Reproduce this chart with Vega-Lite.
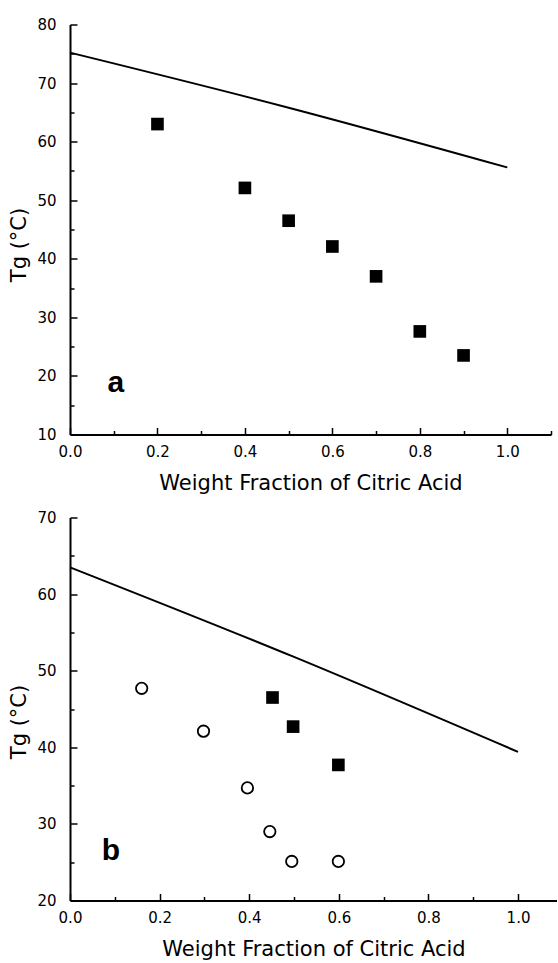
{
  "$schema": "https://vega.github.io/schema/vega-lite/v6.json",
  "background": "white",
  "padding": {"left": 8, "top": 17.5, "right": 0, "bottom": 0},
  "bounds": "flush",
  "spacing": 83,
  "config": {
    "view": {"stroke": null},
    "font": "DejaVu Sans",
    "axis": {
      "grid": false,
      "domainColor": "black",
      "domainWidth": 2,
      "tickColor": "black",
      "tickWidth": 1.5,
      "labelColor": "black",
      "titleColor": "black",
      "labelFont": "DejaVu Sans",
      "labelFontSize": 15,
      "titleFont": "DejaVu Sans",
      "titleFontSize": 21,
      "titleFontWeight": "normal",
      "labelFlush": false,
      "labelOverlap": false
    }
  },
  "datasets": {
    "lineA": [
      {"x": 0.0, "y": 75.2}, {"x": 0.5, "y": 65.8}, {"x": 1.0, "y": 55.6}
    ],
    "ptsA": [
      {"x": 0.2, "y": 63.0}, {"x": 0.4, "y": 52.1}, {"x": 0.5, "y": 46.5},
      {"x": 0.6, "y": 42.1}, {"x": 0.7, "y": 37.0}, {"x": 0.8, "y": 27.6},
      {"x": 0.9, "y": 23.5}
    ],
    "labA": [{"x": 0.105, "y": 17.2, "label": "a"}],
    "lineB": [
      {"x": 0.0, "y": 63.5}, {"x": 0.5, "y": 51.8}, {"x": 1.0, "y": 39.4}
    ],
    "sqB": [
      {"x": 0.452, "y": 46.5}, {"x": 0.498, "y": 42.7}, {"x": 0.599, "y": 37.7}
    ],
    "circB": [
      {"x": 0.16, "y": 47.7}, {"x": 0.298, "y": 42.1}, {"x": 0.396, "y": 34.7},
      {"x": 0.446, "y": 29.0}, {"x": 0.495, "y": 25.1}, {"x": 0.599, "y": 25.1}
    ],
    "labB": [{"x": 0.0915, "y": 25.3, "label": "b"}]
  },
  "vconcat": [
    {
      "width": 481,
      "height": 410,
      "encoding": {
        "x": {
          "field": "x", "type": "quantitative",
          "scale": {"domain": [0, 1.1], "nice": false, "zero": false},
          "axis": {
            "title": "Weight Fraction of Citric Acid",
            "values": [0, 0.1, 0.2, 0.3, 0.4, 0.5, 0.6, 0.7, 0.8, 0.9, 1.0, 1.1],
            "labelExpr": "(round(datum.value*10) % 2 == 0 && datum.value < 1.05) ? format(datum.value, '.1f') : ''",
            "tickSize": {"condition": {"test": "round(datum.value*10) % 2 == 0", "value": -7}, "value": -4},
            "labelPadding": 17,
            "titlePadding": 10
          }
        },
        "y": {
          "field": "y", "type": "quantitative",
          "scale": {"domain": [10, 80], "nice": false, "zero": false},
          "axis": {
            "title": "Tg (°C)",
            "values": [10, 15, 20, 25, 30, 35, 40, 45, 50, 55, 60, 65, 70, 75, 80],
            "labelExpr": "datum.value % 10 == 0 ? datum.value : ''",
            "tickSize": {"condition": {"test": "datum.value % 10 == 0", "value": -7}, "value": -4},
            "labelPadding": 21,
            "titlePadding": 7,
            "titleY": 220
          }
        }
      },
      "layer": [
        {"data": {"name": "lineA"}, "mark": {"type": "line", "color": "black", "strokeWidth": 2, "interpolate": "monotone"}},
        {"data": {"name": "ptsA"}, "mark": {"type": "point", "shape": "square", "filled": true, "color": "black", "size": 160, "opacity": 1}},
        {"data": {"name": "labA"}, "mark": {"type": "text", "font": "Liberation Sans", "fontSize": 30, "fontWeight": "bold", "align": "center", "baseline": "alphabetic", "color": "black"},
         "encoding": {"text": {"field": "label"}}}
      ]
    },
    {
      "width": 487,
      "height": 383,
      "encoding": {
        "x": {
          "field": "x", "type": "quantitative",
          "scale": {"domain": [0, 1.087], "nice": false, "zero": false},
          "axis": {
            "title": "Weight Fraction of Citric Acid",
            "values": [0, 0.1, 0.2, 0.3, 0.4, 0.5, 0.6, 0.7, 0.8, 0.9, 1.0],
            "labelExpr": "(round(datum.value*10) % 2 == 0) ? format(datum.value, '.1f') : ''",
            "tickSize": {"condition": {"test": "round(datum.value*10) % 2 == 0", "value": -7}, "value": -4},
            "labelPadding": 17,
            "titlePadding": 10
          }
        },
        "y": {
          "field": "y", "type": "quantitative",
          "scale": {"domain": [20, 70], "nice": false, "zero": false},
          "axis": {
            "title": "Tg (°C)",
            "values": [20, 25, 30, 35, 40, 45, 50, 55, 60, 65, 70],
            "labelExpr": "datum.value % 10 == 0 ? datum.value : ''",
            "tickSize": {"condition": {"test": "datum.value % 10 == 0", "value": -7}, "value": -4},
            "labelPadding": 21,
            "titlePadding": 7,
            "titleY": 204
          }
        }
      },
      "layer": [
        {"data": {"name": "lineB"}, "mark": {"type": "line", "color": "black", "strokeWidth": 2, "interpolate": "monotone"}},
        {"data": {"name": "sqB"}, "mark": {"type": "point", "shape": "square", "filled": true, "color": "black", "size": 160, "opacity": 1}},
        {"data": {"name": "circB"}, "mark": {"type": "point", "shape": "circle", "filled": false, "color": "black", "strokeWidth": 1.8, "size": 130, "opacity": 1}},
        {"data": {"name": "labB"}, "mark": {"type": "text", "font": "Liberation Sans", "fontSize": 30, "fontWeight": "bold", "align": "center", "baseline": "alphabetic", "color": "black"},
         "encoding": {"text": {"field": "label"}}}
      ]
    }
  ]
}
